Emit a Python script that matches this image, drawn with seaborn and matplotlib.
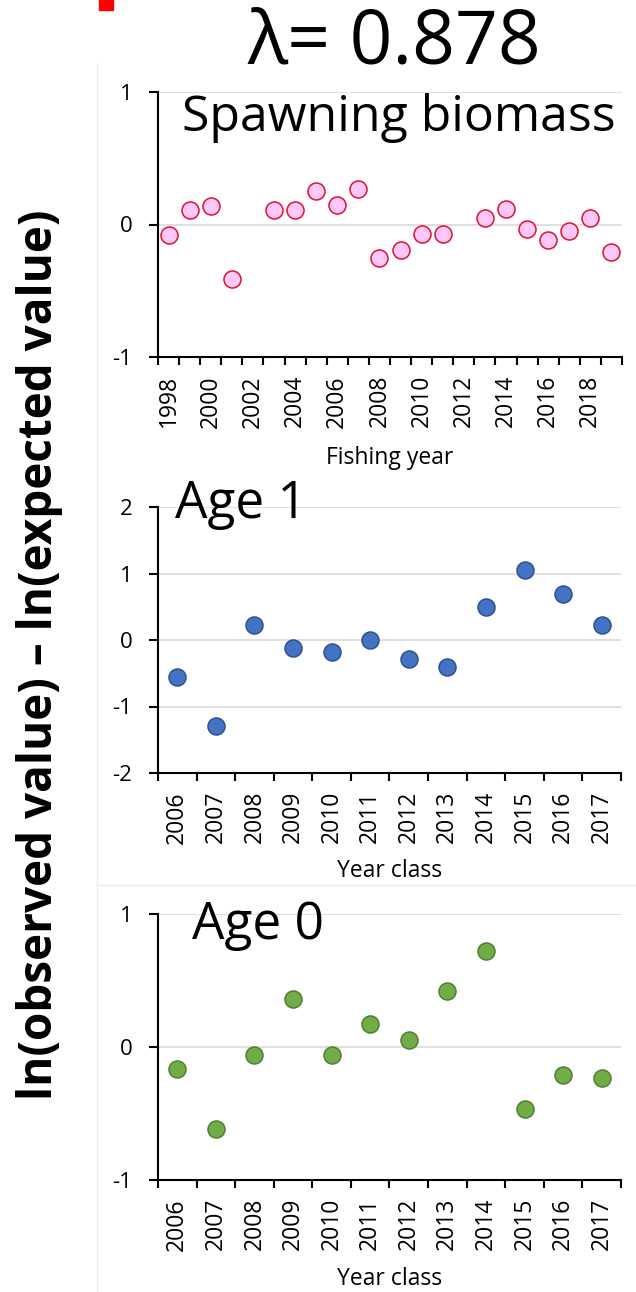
import numpy as np
import pandas as pd
import matplotlib
matplotlib.use("Agg")
import matplotlib.pyplot as plt
from matplotlib.lines import Line2D
from matplotlib.patches import Rectangle
import seaborn as sns

# --- data ---
sb_years = list(range(1998, 2020))
sb_resid = [-0.08, 0.11, 0.14, -0.41, np.nan, 0.11, 0.11, 0.25, 0.15, 0.27, -0.25,
            -0.19, -0.07, -0.07, np.nan, 0.05, 0.12, -0.035, -0.12, -0.05, 0.05, -0.21]

yc_years = list(range(2006, 2018))
age1_resid = [-0.56, -1.29, 0.23, -0.12, -0.18, 0.0, -0.28, -0.41, 0.50, 1.05, 0.69, 0.23]
age0_resid = [-0.165, -0.62, -0.063, 0.363, -0.063, 0.175, 0.053, 0.423, 0.72, -0.463, -0.213, -0.235]

lam_text = "λ= 0.878"
ylabel = "ln(observed value) – ln(expected value)"

sns.set_theme(style="white")
plt.rcParams["font.family"] = ["Open Sans", "DejaVu Sans"]
for key in ["text.color", "axes.labelcolor", "xtick.color", "ytick.color"]:
    plt.rcParams[key] = "black"

W, H = 636, 1292
fig = plt.figure(figsize=(W / 100, H / 100), dpi=100)


def px_axes(left, top, right, bottom):
    return fig.add_axes([left / W, 1 - bottom / H, (right - left) / W, (bottom - top) / H])


def style_axes(ax, years, ylim, yticks, label_years, xlabel, xlabel_y):
    ax.set_xlim(years[0] - 0.5, years[-1] + 0.5)
    ax.set_ylim(*ylim)
    ax.set_yticks(yticks)
    ax.set_yticklabels([str(t) for t in yticks])
    ax.set_xticks(label_years)
    ax.set_xticklabels([str(y) for y in label_years], rotation=90)
    ax.set_xticks(np.arange(years[0] - 0.5, years[-1] + 0.51, 1.0), minor=True)
    ax.tick_params(axis="x", which="major", length=0, pad=13, labelsize=16.5)
    ax.tick_params(axis="x", which="minor", length=6, width=1.5, color="black", direction="out", bottom=True)
    ax.tick_params(axis="y", length=6.5, width=1.5, color="black", direction="out", left=True,
                   pad=12, labelsize=16)
    ax.grid(axis="y", color="#d9d9d9", linewidth=1.2)
    ax.grid(axis="x", visible=False)
    ax.set_axisbelow(True)
    for s in ["top", "right"]:
        ax.spines[s].set_visible(False)
    for s in ["left", "bottom"]:
        ax.spines[s].set_color("black")
        ax.spines[s].set_linewidth(1.5)
    ax.set_xlabel(xlabel, fontsize=16.5)
    ax.xaxis.set_label_coords(0.5, xlabel_y)
    ax.set_ylabel("")
    if ax.get_legend():
        ax.get_legend().remove()


# panel 1: spawning biomass
ax1 = px_axes(158, 92, 622, 357)
df1 = pd.DataFrame({"year": sb_years, "resid": sb_resid})
sns.scatterplot(data=df1, x="year", y="resid", ax=ax1, s=150,
                color="#FFC8F8", edgecolor="#E0102F", linewidth=1.1, zorder=3)
style_axes(ax1, sb_years, (-1, 1), [-1, 0, 1], sb_years[::2], "Fishing year", -0.335)
ax1.text(0.052, 0.853, "Spawning biomass", transform=ax1.transAxes, fontsize=36,
         va="baseline", ha="left")

# panel 2: age 1
ax2 = px_axes(158, 507, 621, 773)
df2 = pd.DataFrame({"year": yc_years, "resid": age1_resid})
sns.scatterplot(data=df2, x="year", y="resid", ax=ax2, s=150,
                color="#4472C4", edgecolor="#2F528F", linewidth=1.1, zorder=3)
style_axes(ax2, yc_years, (-2, 2), [-2, -1, 0, 1, 2], yc_years, "Year class", -0.322)
ax2.text(0.037, 0.959, "Age 1", transform=ax2.transAxes, fontsize=37,
         va="baseline", ha="left")

# panel 3: age 0
ax3 = px_axes(158, 914, 621, 1180)
df3 = pd.DataFrame({"year": yc_years, "resid": age0_resid})
sns.scatterplot(data=df3, x="year", y="resid", ax=ax3, s=150,
                color="#70AD47", edgecolor="#507E32", linewidth=1.1, zorder=3)
style_axes(ax3, yc_years, (-1, 1), [-1, 0, 1], yc_years, "Year class", -0.326)
ax3.text(0.073, 0.906, "Age 0", transform=ax3.transAxes, fontsize=37,
         va="baseline", ha="left")

# titles and shared label
fig.text(394 / W, 1 - 63 / H, lam_text, fontsize=54, ha="center", va="baseline")
fig.text(40 / W, 1 - 655 / H, ylabel, fontsize=33, fontweight="bold", rotation=90,
         ha="center", va="center")

# faint frame lines and red corner mark from the source figure
fig.add_artist(Line2D([97 / W, 97 / W], [0, 1 - 63 / H], color="#ececec", lw=1))
fig.add_artist(Line2D([97 / W, 1], [1 - 885 / H, 1 - 885 / H], color="#ececec", lw=1))
fig.add_artist(Rectangle((99 / W, 1 - 10 / H), 14 / W, 10 / H, color="#FF0000",
                         transform=fig.transFigure))

fig.savefig("out.png", dpi=100)
